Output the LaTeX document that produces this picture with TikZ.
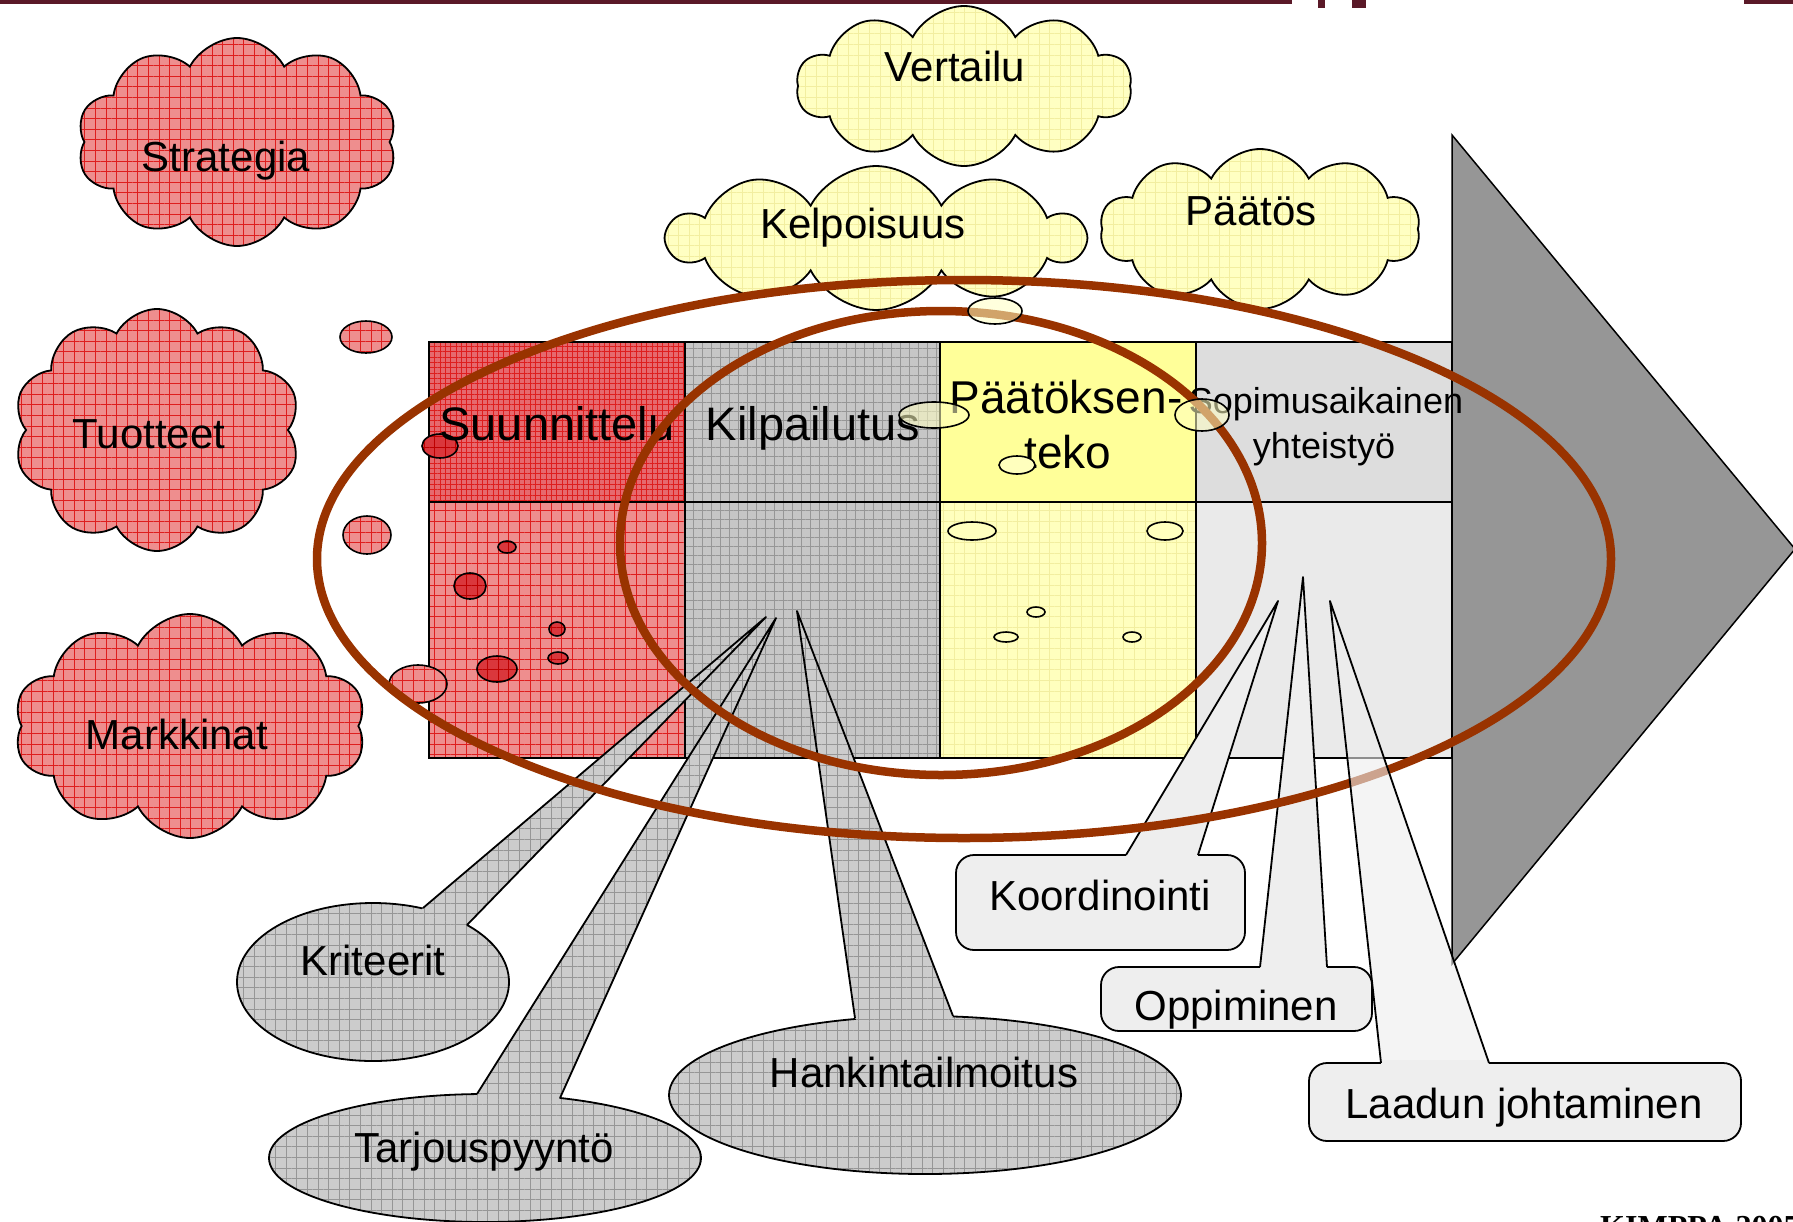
\documentclass[tikz,border=0pt]{standalone}
\usepackage{fontspec}
\setmainfont{Liberation Sans}
\newfontfamily\kimfont{Liberation Serif}
\usetikzlibrary{shapes.symbols,patterns.meta,calc}

\definecolor{redbase}{RGB}{238,142,142}
\definecolor{redline}{RGB}{222,30,30}
\definecolor{reddense}{RGB}{230,105,110}
\definecolor{bubred}{RGB}{218,55,60}
\definecolor{bubline}{RGB}{190,0,0}
\definecolor{graybase}{RGB}{204,204,204}
\definecolor{grayline}{RGB}{150,150,150}
\definecolor{cellgray}{RGB}{198,198,198}
\definecolor{yelcell}{RGB}{255,255,153}
\definecolor{yelcellb}{RGB}{255,255,190}
\definecolor{yelline}{RGB}{242,238,160}
\definecolor{yelcloud}{RGB}{255,255,194}
\definecolor{lgtop}{RGB}{221,221,221}
\definecolor{lgbot}{RGB}{234,234,234}
\definecolor{boxfill}{RGB}{238,238,238}
\definecolor{arrowgray}{RGB}{150,150,150}
\definecolor{ringbrown}{RGB}{153,51,0}
\definecolor{topbar}{RGB}{90,25,40}

\tikzset{
  redtex/.style={preaction={fill=redbase}, pattern={Hatch[angle=0,distance=10.6pt,line width=0.7pt]}, pattern color=redline},
  densetex/.style={preaction={fill=reddense}, pattern={Hatch[angle=0,distance=5.3pt,line width=0.6pt]}, pattern color=redline},
  bubtex/.style={preaction={fill=bubred}, pattern={Hatch[angle=0,distance=10.6pt,line width=0.7pt]}, pattern color=bubline},
  graytex/.style={preaction={fill=graybase}, pattern={Hatch[angle=0,distance=10.6pt,line width=0.7pt]}, pattern color=grayline},
  cellgraytex/.style={preaction={fill=cellgray}, pattern={Hatch[angle=0,distance=9pt,line width=0.6pt]}, pattern color=grayline},
  yeltex/.style={preaction={fill=yelcloud}, pattern={Hatch[angle=0,distance=10.6pt,line width=0.6pt]}, pattern color=yelline},
  yelcelltex/.style={preaction={fill=yelcellb}, pattern={Hatch[angle=0,distance=10.6pt,line width=0.6pt]}, pattern color=yelline},
  outl/.style={draw=black, line width=1.8pt},
  cloudbase/.style={cloud, cloud puffs=10, cloud puff arc=125, cloud ignores aspect, outl, inner sep=0pt},
  redcloud/.style={cloudbase, redtex},
  yelcloudst/.style={cloudbase, yeltex},
  lbl/.style={font=\fontsize{42}{50}\selectfont, anchor=base, inner sep=0pt},
  celllbl/.style={font=\fontsize{47}{56}\selectfont, anchor=base, inner sep=0pt},
  smallcelllbl/.style={font=\fontsize{36}{44}\selectfont, anchor=base, inner sep=0pt},
  ring/.style={draw=ringbrown, line width=8.5pt},
  yelbub/.style={draw=black, line width=1.6pt, fill=yelcloud, fill opacity=0.55},
  yelbubin/.style={draw=black, line width=1.6pt, fill=yelcellb},
  boxst/.style={outl, fill=boxfill, rounded corners=18pt},
  ptrside/.style={draw=black, line width=1.8pt, line join=round},
}

\newcommand\graycallout[6]{%
  \path[graytex, outl] (#1) ellipse [x radius=#2, y radius=#3];
  \path[graytex] (#4) -- (#5) -- ($(#5)!5pt!(#1)$) -- ($(#6)!5pt!(#1)$) -- (#6) -- cycle;
  \path[ptrside] (#5) -- (#4) -- (#6);
}
\newcommand\boxcallout[6]{%
  \path[boxst] (#1) rectangle (#2);
  \fill[boxfill] ($(#4)+(0,-3)$) rectangle ($(#5)+(0,4)$);
  \fill[boxfill, fill opacity=#6] (#3) -- (#4) -- (#5) -- cycle;
  \path[ptrside] (#4) -- (#3) -- (#5);
}

\begin{document}
\begin{tikzpicture}[x=1pt, y=-1pt]
\useasboundingbox (0,0) rectangle (1793,1221);
\fill[white] (0,0) rectangle (1793,1221);

% top bar remnants
\fill[topbar] (0,0) rectangle (1292,4);
\fill[topbar] (1318,0) rectangle (1325,8);
\fill[topbar] (1352,0) rectangle (1366,8);
\fill[topbar] (1744,0) rectangle (1793,4);

% table
\path[densetex] (429,342) rectangle (685,502);
\path[redtex] (429,502) rectangle (685,758);
\path[cellgraytex] (685,342) rectangle (940,758);
\fill[yelcell] (940,342) rectangle (1196,502);
\path[yelcelltex] (940,502) rectangle (1196,758);
\fill[lgtop] (1196,342) rectangle (1452,502);
\fill[lgbot] (1196,502) rectangle (1452,758);
\draw[black, line width=1.6pt] (429,342) rectangle (1452,758);
\draw[black, line width=1.6pt] (429,502) -- (1452,502);
\foreach \xx in {685,940,1196} \draw[black, line width=1.6pt] (\xx,342) -- (\xx,758);

% red clouds
\node[redcloud, minimum width=320pt, minimum height=208pt] (cStr) at (237,142) {};
\node[redcloud, minimum width=287pt, minimum height=242pt] (cTuo) at (157,430) {};
\node[redcloud, minimum width=352pt, minimum height=224pt] (cMar) at (190,726) {};

% red bubbles
\path[redtex, outl, line width=1.6pt] (366,337) ellipse [x radius=26, y radius=16];
\path[redtex, outl, line width=1.6pt] (367,535) ellipse [x radius=24, y radius=19];
\path[redtex, outl, line width=1.6pt] (418,684) ellipse [x radius=29, y radius=19];
\path[bubtex, outl, line width=1.6pt] (440,446) ellipse [x radius=18, y radius=12];
\path[bubtex, outl, line width=1.6pt] (507,547) ellipse [x radius=9, y radius=6];
\path[bubtex, outl, line width=1.6pt] (470,586) ellipse [x radius=16, y radius=13];
\path[bubtex, outl, line width=1.6pt] (557,629) ellipse [x radius=8, y radius=7];
\path[bubtex, outl, line width=1.6pt] (558,658) ellipse [x radius=10, y radius=6];
\path[bubtex, outl, line width=1.6pt] (497,669) ellipse [x radius=20, y radius=13];

% yellow clouds
\node[yelcloudst, minimum width=335pt, minimum height=160pt] (cVer) at (964,86) {};
\node[yelcloudst, minimum width=415pt, minimum height=144pt] (cKel) at (876,238) {};
\node[yelcloudst, minimum width=320pt, minimum height=160pt] (cPaa) at (1260,229) {};

% arrow
\filldraw[fill=arrowgray, draw=black, line width=1.5pt] (1452,135) -- (1795,549) -- (1452,964) -- cycle;

% cell texts
\node[celllbl] (tSuu) at (557,440) {Suunnittelu};
\node[celllbl] (tKil) at (813,440) {Kilpailutus};
\node[celllbl, font=\fontsize{46}{56}\selectfont] (tPa1) at (1066,413) {Päätöksen-};
\node[celllbl, font=\fontsize{46}{56}\selectfont] (tPa2) at (1068,468) {teko};
\node[smallcelllbl] (tSo1) at (1326,413) {Sopimusaikainen};
\node[smallcelllbl] (tSo2) at (1324,458) {yhteistyö};

% gray callouts
\coordinate (kC) at (373,982);
\coordinate (kT) at (766,617);
\coordinate (kB1) at (423,908);
\coordinate (kB2) at (467,925);
\graycallout{kC}{136}{79}{kT}{kB1}{kB2}
\coordinate (tC) at (485,1158);
\coordinate (tT) at (776,618);
\coordinate (tB1) at (477,1094);
\coordinate (tB2) at (560,1098);
\graycallout{tC}{216}{64}{tT}{tB1}{tB2}
\coordinate (hC) at (925,1095);
\coordinate (hT) at (797,611);
\coordinate (hB1) at (855,1018);
\coordinate (hB2) at (953,1016);
\graycallout{hC}{256}{79}{hT}{hB1}{hB2}

% light box callouts
\coordinate (koA) at (956,855);
\coordinate (koB) at (1245,950);
\coordinate (koT) at (1278,601);
\coordinate (koB1) at (1126,855);
\coordinate (koB2) at (1198,855);
\boxcallout{koA}{koB}{koT}{koB1}{koB2}{1}
\coordinate (opA) at (1101,967);
\coordinate (opB) at (1372,1031);
\coordinate (opT) at (1303,577);
\coordinate (opB1) at (1260,967);
\coordinate (opB2) at (1327,967);
\boxcallout{opA}{opB}{opT}{opB1}{opB2}{1}

% brown rings
\draw[ring] (964,559) ellipse [x radius=647, y radius=279];
\draw[ring] (941,543) ellipse [x radius=321, y radius=232];

% yellow bubbles
\path[yelbub] (995,311) ellipse [x radius=27, y radius=13];
\path[yelbub] (934,415) ellipse [x radius=35, y radius=13];
\path[yelbub] (1202,415) ellipse [x radius=27, y radius=16];
\path[yelbubin] (1017,465) ellipse [x radius=18, y radius=9];
\path[yelbubin] (972,531) ellipse [x radius=24, y radius=9];
\path[yelbubin] (1165,531) ellipse [x radius=18, y radius=9];
\path[yelbubin] (1036,612) ellipse [x radius=9, y radius=5];
\path[yelbubin] (1006,637) ellipse [x radius=12, y radius=5];
\path[yelbubin] (1132,637) ellipse [x radius=9, y radius=5];

% Laadun callout (pointer over ring)
\coordinate (laA) at (1309,1063);
\coordinate (laB) at (1741,1141);
\coordinate (laT) at (1330,601);
\coordinate (laB1) at (1381,1063);
\coordinate (laB2) at (1489,1063);
\boxcallout{laA}{laB}{laT}{laB1}{laB2}{0.6}

% cloud texts
\node[lbl] (lStr) at (226,171) {Strategia};
\node[lbl] (lTuo) at (149,448) {Tuotteet};
\node[lbl] (lMar) at (177,749) {Markkinat};
\node[lbl] (lVer) at (955,81) {Vertailu};
\node[lbl] (lKel) at (863,238) {Kelpoisuus};
\node[lbl] (lPaa) at (1251,225) {Päätös};

% callout texts
\node[lbl] (lKri) at (373,975) {Kriteerit};
\node[lbl] (lTar) at (484,1162) {Tarjouspyyntö};
\node[lbl] (lHan) at (924,1087) {Hankintailmoitus};
\node[lbl] (lKoo) at (1100,910) {Koordinointi};
\node[lbl] (lOpp) at (1236,1020) {Oppiminen};
\node[lbl] (lLaa) at (1524,1118) {Laadun johtaminen};

% footer (cut off at the bottom edge, as in the reference)
\node[anchor=base west, inner sep=0pt, font=\kimfont\bfseries\fontsize{32}{38}\selectfont] (foot) at (1600,1237) {KIMPPA 2005};
\end{tikzpicture}
\end{document}
